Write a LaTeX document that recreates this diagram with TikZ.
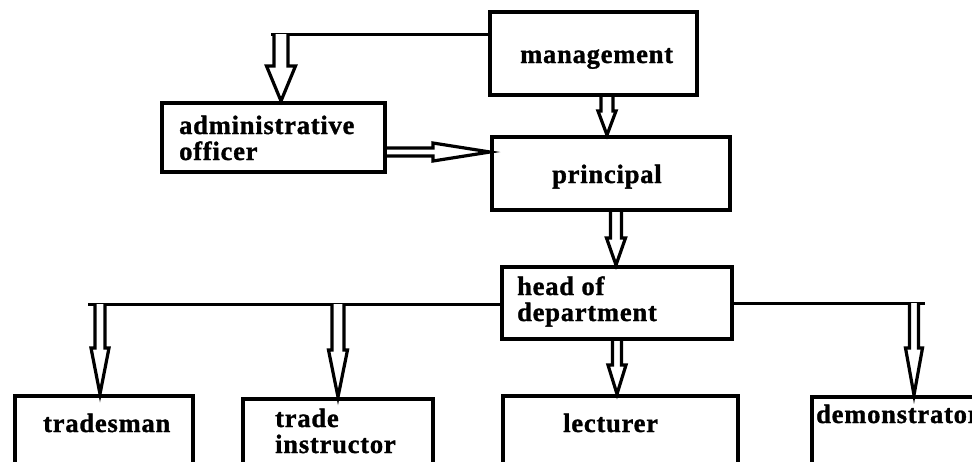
\documentclass[tikz,border=0pt]{standalone}
\usepackage{fontspec}
\setmainfont{Liberation Serif}[LetterSpace=3, BoldFeatures={FakeBold=1.2}]
\usetikzlibrary{calc}
\tikzset{
  box/.style={draw, line width=4pt, inner sep=0pt, fill=white},
  lbl/.style={anchor=base west, inner sep=0pt, font=\fontsize{26.5}{26}\selectfont\bfseries},
  conn/.style={draw, line width=3pt},
  fatarr/.style={draw, line width=3.2pt, fill=white, line join=miter},
}
\newcommand\twolines[2]{\vtop{\hbox{#1}\hbox{#2}}}
% start, end, head length, shaft half width, head half width
\newcommand\downarr[5]{%
  \draw[fatarr] let \p1=#1, \p2=#2 in
    (\x1-#4,\y1) -- (\x1-#4,\y2+#3) -- (\x1-#5,\y2+#3) -- (\x1,\y2)
    -- (\x1+#5,\y2+#3) -- (\x1+#4,\y2+#3) -- (\x1+#4,\y1);}
\newcommand\rightarr[5]{%
  \draw[fatarr] let \p1=#1, \p2=#2 in
    (\x1,\y1+#4) -- (\x2-#3,\y1+#4) -- (\x2-#3,\y1+#5) -- (\x2,\y1)
    -- (\x2-#3,\y1-#5) -- (\x2-#3,\y1-#4) -- (\x1,\y1-#4);}
\begin{document}
\begin{tikzpicture}[x=1pt,y=-1pt]
\useasboundingbox (0,0) rectangle (972,461);
\clip (0,0) rectangle (972,461);
\fill[white] (0,0) rectangle (972,461);
% boxes
\node[box, minimum width=207pt, minimum height=83pt] (mgmt) at (593.5,53.5) {};
\node[box, minimum width=223pt, minimum height=69pt] (admin) at (273.5,137.5) {};
\node[box, minimum width=238pt, minimum height=73pt] (principal) at (611,173.5) {};
\node[box, minimum width=230pt, minimum height=72pt] (hod) at (617,303) {};
\node[box, minimum width=178pt, minimum height=84pt] (trades) at (104,438) {};
\node[box, minimum width=190pt, minimum height=81pt] (instr) at (338,439.5) {};
\node[box, minimum width=235pt, minimum height=84pt] (lect) at (620.5,438) {};
\node[box, minimum width=188pt, minimum height=83pt] (demo) at (906,438.5) {};
% labels
\node[lbl] (mgmt-t) at (520,63) {management};
\node[lbl] (admin-t) at (179,134) {\twolines{administrative}{officer}};
\node[lbl] (principal-t) at (552,183) {principal};
\node[lbl] (hod-t) at (517,295) {\twolines{head of}{department}};
\node[lbl] (trades-t) at (43,432) {tradesman};
\node[lbl] (instr-t) at (275,427) {\twolines{trade}{instructor}};
\node[lbl] (lect-t) at (563,432) {lecturer};
\node[lbl] (demo-t) at (816,423) {demonstrator};
% connector lines
\coordinate (ma) at (281,34);
\draw[conn] ([xshift=-10pt]ma) -- (ma -| mgmt.west);
\coordinate (hl) at (88,304);
\coordinate (hr) at (925,303);
\coordinate (ta) at (100,304);
\coordinate (ia) at (338,304);
\coordinate (da) at (914,303);
\draw[conn] (hl) -- (hl -| hod.west);
\draw[conn] (hr -| hod.east) -- (hr);
% arrows
\downarr{(ma)}{(admin.north)}{35pt}{7pt}{14.5pt}
\downarr{([xshift=13.5pt]mgmt.south)}{(principal.north)}{24pt}{6pt}{9pt}
\rightarr{([yshift=-14.5pt]admin.east)}{(principal.west)}{57pt}{4pt}{9pt}
\downarr{([xshift=5pt]principal.south)}{(hod.north)}{27pt}{5.5pt}{9.5pt}
\downarr{(hod.south)}{(lect.north)}{29pt}{4.5pt}{9pt}
\downarr{(ta)}{(trades.north)}{46pt}{5pt}{9pt}
\downarr{(ia)}{(instr.north)}{47pt}{6pt}{9.5pt}
\downarr{(da)}{(demo.north)}{47pt}{4.5pt}{8.5pt}
\end{tikzpicture}
\end{document}
